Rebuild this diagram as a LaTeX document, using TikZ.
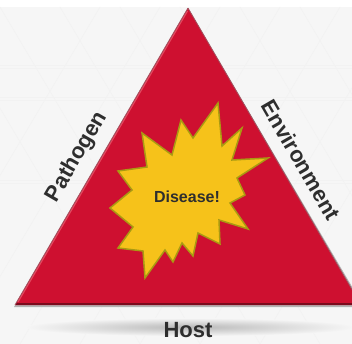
\documentclass[tikz,border=0pt]{standalone}
\usepackage{fontspec}
\setmainfont{Liberation Sans}
\definecolor{crimson}{HTML}{CE1030}
\definecolor{darkcrimson}{HTML}{7A0A1C}
\definecolor{lightcrimson}{HTML}{E4485F}
\definecolor{burst}{HTML}{F6C21A}
\definecolor{burstedge}{HTML}{A99A12}
\definecolor{ink}{HTML}{2E2E2E}
\definecolor{paper}{HTML}{F6F6F6}
\tikzset{sidelabel/.style={font=\bfseries\fontsize{22}{24}\selectfont,text=ink,inner sep=0pt}}

\begin{document}
\begin{tikzpicture}[x=1pt,y=-1pt]
		\useasboundingbox (0,0) rectangle (352,344);
		\clip (0,0) rectangle (352,344);
		\fill[paper] (0,0) rectangle (352,344);
		\fill[white] (0,0) rectangle (352,7);
		% faint backdrop lines
		\foreach \y in {65,68,97,100,180,183}
			\draw[gray!10,line width=0.6pt] (0,\y)--(352,\y);
		\foreach \x in {-60,0,60,120,180,240,300}
			\draw[gray!10,line width=0.6pt] (\x,7)--(\x+200,344) (\x+160,7)--(\x-40,344);
		\shade[inner color=gray!55,outer color=paper] (190,327) ellipse (165 and 9);
		% triangle
		\coordinate (top) at (188,8);
		\coordinate (left) at (15,305);
		\coordinate (right) at (361,305);
		\fill[gray!60] (189,10)--(364,307)--(14,307)--cycle;
		\fill[crimson] (top)--(left)--(right)--cycle;
		\draw[darkcrimson,line width=2.5pt] (16,303.8)--(360,303.8);
		\draw[lightcrimson,line width=1.2pt] (187.5,11)--(18,302);
		\draw[darkcrimson!70,line width=0.8pt] (top)--(left) (top)--(right);
		% burst
		\draw[fill=burst,draw=burstedge,line width=1.5pt,line join=miter]
			(218,103)--(222,146)--(242,128)--(232,160)--(268,158)--(237,178)--(245,195)
			--(230,203)--(248,229)--(219,220)--(220,244)--(198,233)--(193,256)--(182,243)
			--(173,262)--(165,250)--(145,278)--(143,251)--(118,248)--(133,227)--(110,208)
			--(132,190)--(118,171)--(147,167)--(142,133)--(172,155)--(181,120)--(193,138)--cycle;
		\node[font=\bfseries\fontsize{16}{18}\selectfont,text=ink] (disease) at (187,197) {Disease!};
		% sides
		\node[sidelabel,rotate=60] (pathogen) at (77,157) {Pathogen};
		\node[sidelabel,rotate=-60] (environment) at (301,160) {Environment};
		\node[sidelabel] (host) at (188,330) {Host};
	\end{tikzpicture}
\end{document}
